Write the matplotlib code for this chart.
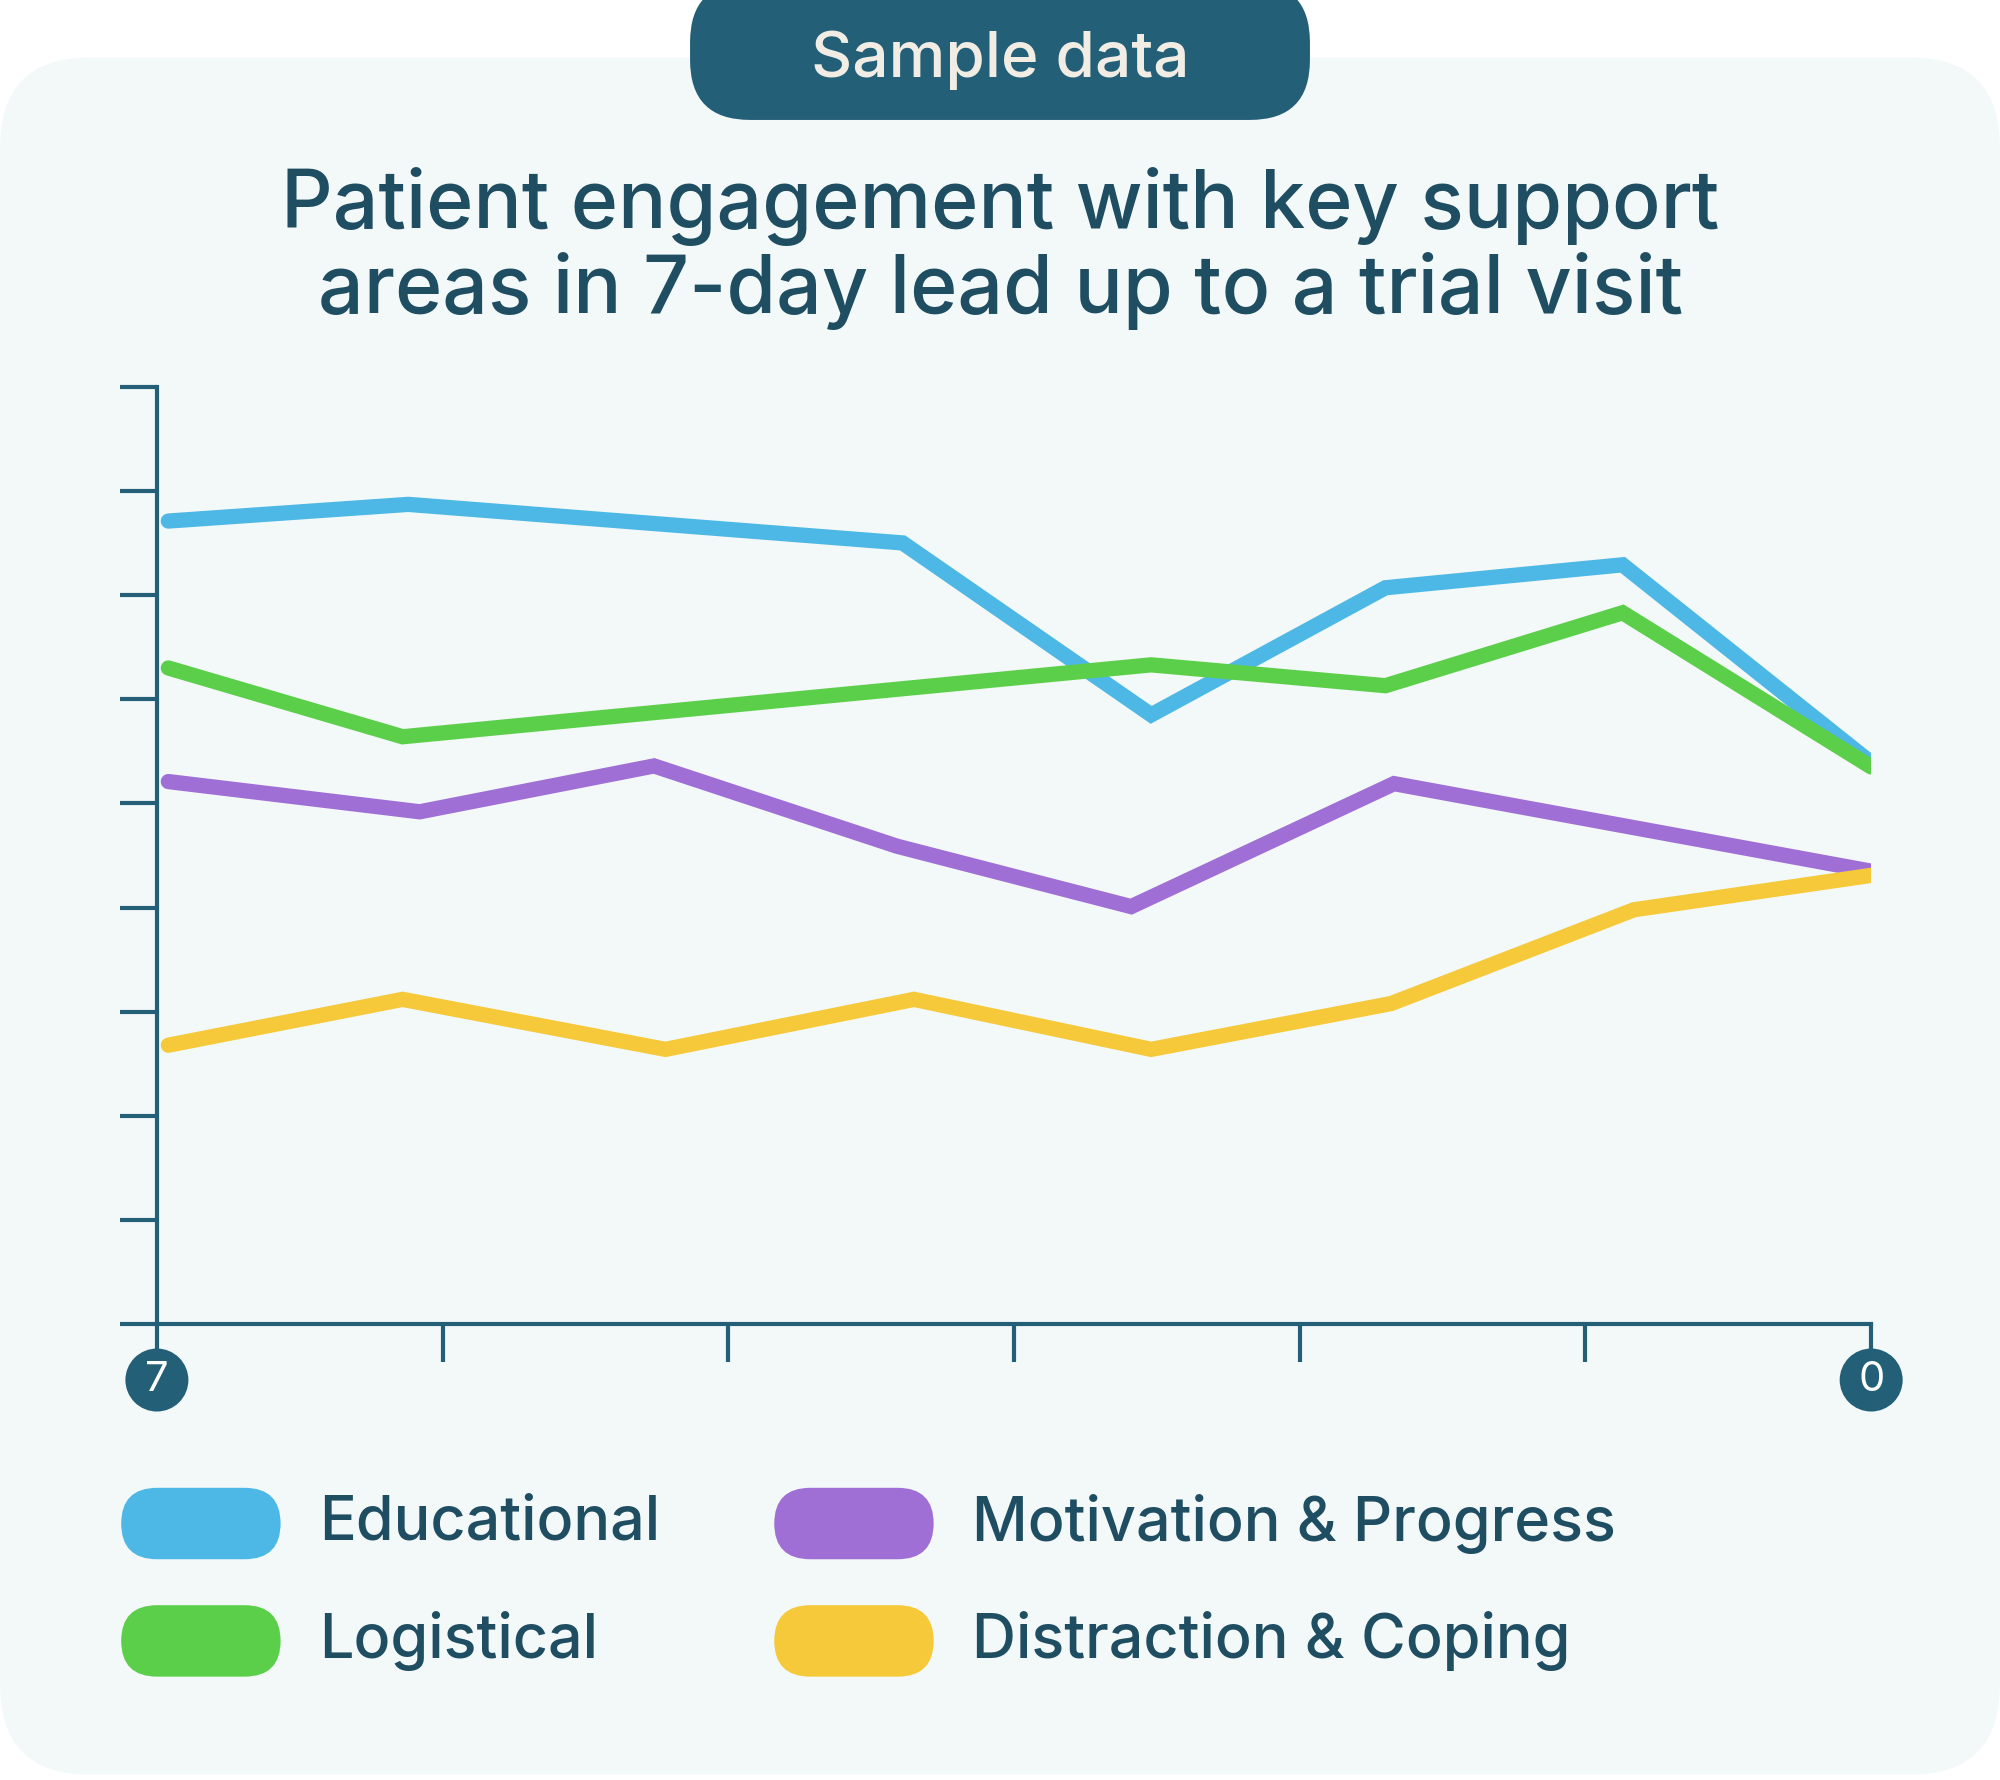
import matplotlib
matplotlib.use("Agg")
import matplotlib.pyplot as plt
from matplotlib.patches import FancyBboxPatch

W, H = 1568, 1395
def fx(p): return p / W
def fy(p): return 1 - p / H

series_names = ["Educational", "Logistical", "Motivation & Progress", "Distraction & Coping"]
colors = ["#4db8e5", "#5ccf4a", "#a06fd6", "#f5c93a"]
edu_x = [0.04, 0.88, 2.61, 3.48, 4.30, 5.13, 6.0]
edu_y = [7.71, 7.87, 7.50, 5.85, 7.07, 7.29, 5.39]
log_x = [0.04, 0.86, 3.48, 4.30, 5.13, 6.0]
log_y = [6.30, 5.64, 6.33, 6.13, 6.83, 5.35]
mot_x = [0.04, 0.92, 1.74, 2.59, 3.41, 4.33, 6.0]
mot_y = [5.21, 4.92, 5.36, 4.59, 4.01, 5.19, 4.35]
dis_x = [0.04, 0.86, 1.78, 2.65, 3.48, 4.32, 5.17, 6.0]
dis_y = [2.68, 3.12, 2.64, 3.12, 2.64, 3.08, 3.98, 4.31]
end_labels = ["7", "0"]

dark = "#245f78"
txt = "#1f4d61"
FONT = ["Inter", "DejaVu Sans"]

fig = plt.figure(figsize=(20, 17.8), dpi=100)
fig.patch.set_facecolor("white")
card = FancyBboxPatch((0, 0.003), 1, fy(45) - 0.003, boxstyle="round,pad=0,rounding_size=0.045",
                      transform=fig.transFigure, facecolor="#f3f9f9", edgecolor="none",
                      mutation_aspect=W / H, zorder=-2)
fig.patches.append(card)
pill = FancyBboxPatch((fx(541), fy(94)), fx(1027 - 541), 94 / H + 0.01,
                      boxstyle="round,pad=0,rounding_size=0.03", transform=fig.transFigure,
                      facecolor=dark, edgecolor="none", mutation_aspect=W / H, zorder=-1)
fig.patches.append(pill)
fig.text(0.5, fy(47), "Sample data", ha="center", va="center", color="#f1ede4",
         fontsize=46, family=FONT, fontweight="medium")
fig.text(0.5, fy(195), "Patient engagement with key support\nareas in 7-day lead up to a trial visit",
         ha="center", va="center", color=txt, fontsize=58, family=FONT,
         fontweight="medium", linespacing=1.1)

ax = fig.add_axes([fx(123), fy(1038), fx(1467 - 123), (1038 - 303) / H])
ax.set_facecolor("none")
for xs, ys, c in zip([edu_x, log_x, mot_x, dis_x], [edu_y, log_y, mot_y, dis_y], colors):
    ax.plot(xs, ys, color=c, lw=11, solid_capstyle="round", solid_joinstyle="miter", zorder=3)
ax.set_xlim(0, 6)
ax.set_ylim(0, 9)
ax.set_xticks(range(7))
ax.set_yticks(range(10))
ax.set_xticklabels([])
ax.set_yticklabels([])
ax.spines["top"].set_visible(False)
ax.spines["right"].set_visible(False)
for s in ["left", "bottom"]:
    ax.spines[s].set_color(dark)
    ax.spines[s].set_linewidth(3)
ax.tick_params(axis="both", direction="out", length=27, width=3, color=dark)
for xv, lab in zip([0, 6], end_labels):
    ax.annotate(lab, xy=(xv, 0), xycoords="data", xytext=(0, -40), textcoords="offset points",
                ha="center", va="center", color="white", fontsize=30, family=FONT,
                bbox=dict(boxstyle="circle,pad=0.3", facecolor=dark, edgecolor="none"),
                annotation_clip=False)

leg_pos = [(95, 1194), (95, 1286), (607, 1194), (607, 1286)]
for (px, py), i in zip(leg_pos, range(4)):
    p = FancyBboxPatch((fx(px), fy(py + 28)), fx(125), 56 / H, boxstyle="round,pad=0,rounding_size=0.018",
                       transform=fig.transFigure, facecolor=colors[i], edgecolor="none",
                       mutation_aspect=W / H)
    fig.patches.append(p)
    fig.text(fx(px + 155), fy(py), series_names[i], ha="left", va="center", color=txt,
             fontsize=44, family=FONT, fontweight="medium")

fig.savefig("out.png", dpi=100)
